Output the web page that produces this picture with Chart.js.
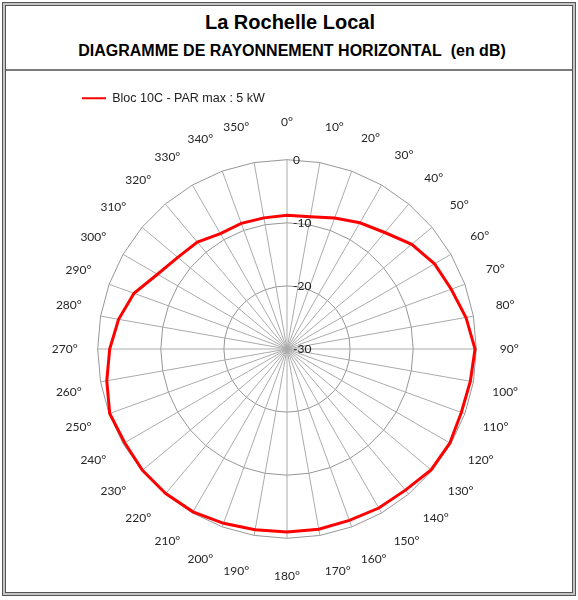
<!DOCTYPE html>
<html>
<head>
<meta charset="utf-8">
<script src="https://cdn.jsdelivr.net/npm/chart.js@4.4.1/dist/chart.umd.min.js"></script>
<style>
  body { margin: 0; background: #fff; }
  #frame {
    position: absolute; left: 2px; top: 2px; width: 574px; height: 594px;
    box-sizing: border-box; border: 1px solid #555; background: #c4c4c4; padding: 2px;
  }
  #inner { width: 100%; height: 100%; box-sizing: border-box; border: 1px solid #555; background: #fff; }
  #sep { position: absolute; left: 6px; top: 69px; width: 566px; height: 2px; background: #7a7a7a; }
  .title {
    position: absolute; left: 0; width: 580px; text-align: center; color: #000;
    font-family: "Liberation Sans", Arial, sans-serif; font-weight: bold;
  }
  #t1 { top: 10px; font-size: 20px; line-height: 24px; }
  #t2 { top: 42px; font-size: 16px; line-height: 18px; left: 2px; }
  canvas { position: absolute; left: 0; top: 0; }
</style>
</head>
<body>
<div id="frame"><div id="inner"></div></div>
<div id="sep"></div>
<div class="title" id="t1">La Rochelle Local</div>
<div class="title" id="t2">DIAGRAMME DE RAYONNEMENT HORIZONTAL&nbsp;&nbsp;(en dB)</div>
<canvas id="diagram" width="578" height="600"></canvas>
<script>
// azimuths, 10 degree steps
const angleLabels = ['0°','10°','20°','30°','40°','50°','60°','70°','80°','90°','100°','110°',
  '120°','130°','140°','150°','160°','170°','180°','190°','200°','210°','220°','230°',
  '240°','250°','260°','270°','280°','290°','300°','310°','320°','330°','340°','350°'];
// relative level in dB
const levelDb = [-8.8,-8.7,-7.9,-6.9,-5.9,-4.2,-3.0,-2.3,-1.2,-0.2,-0.5,-0.6,
  -0.2,-0.2,-0.8,-0.9,-1.1,-1.0,-1.0,-0.9,-0.6,-0.2,-0.1,-0.1,
  -0.3,-0.1,-1.0,-1.9,-2.9,-4.2,-6.3,-7.4,-7.9,-8.9,-8.8,-8.9];
const radialTicks = [-30, -20, -10, 0];
const seriesName = 'Bloc 10C - PAR max : 5 kW';

// tick values drawn just right of the 0° axis, like the original
const tickLabels = {
  id: 'tickLabels',
  afterDatasetsDraw(chart) {
    const r = chart.scales.r;
    const ctx = chart.ctx;
    ctx.save();
    ctx.font = '12px Lato';
    ctx.fillStyle = '#222';
    ctx.textAlign = 'left';
    ctx.textBaseline = 'middle';
    r.ticks.forEach(t => {
      const d = r.getDistanceFromCenterForValue(t.value);
      ctx.fillText(String(t.value), r.xCenter + 6, r.yCenter - d);
    });
    ctx.restore();
  }
};

function labelPadding(c) {
  const a = c.index * Math.PI / 18;
  const s = Math.abs(Math.sin(a));
  const w = (c.label.length - 1) * 7 + 5;
  return 38 - (w / 2) * s - 5 * s * s - 7.2 * Math.abs(Math.cos(a));
}

new Chart(document.getElementById('diagram'), {
  type: 'radar',
  data: {
    labels: angleLabels,
    datasets: [{
      label: seriesName,
      data: levelDb,
      borderColor: '#ff0000',
      backgroundColor: '#ff0000',
      borderWidth: 3,
      fill: false,
      pointRadius: 0,
      pointHoverRadius: 0,
      tension: 0
    }]
  },
  options: {
    responsive: false,
    animation: false,
    layout: { padding: { left: 44, right: 50, top: 54, bottom: 16 } },
    plugins: {
      legend: {
        position: 'top',
        align: 'start',
        labels: {
          boxWidth: 24,
          boxHeight: 0,
          padding: 38,
          color: '#222',
          font: { family: '"Liberation Sans", Arial, sans-serif', size: 12.5 },
          generateLabels: chart => Chart.defaults.plugins.legend.labels.generateLabels(chart)
            .map(item => Object.assign(item, { lineWidth: 2 }))
        }
      },
      tooltip: { enabled: false }
    },
    scales: {
      r: {
        min: radialTicks[0],
        max: radialTicks[radialTicks.length - 1],
        ticks: { stepSize: 10, display: false },
        grid: { color: '#969696', lineWidth: 1 },
        angleLines: { color: '#ababab', lineWidth: 1 },
        pointLabels: {
          color: '#262626',
          font: { family: 'Lato', size: 12 },
          padding: labelPadding
        }
      }
    }
  },
  plugins: [tickLabels]
});
</script>
</body>
</html>
